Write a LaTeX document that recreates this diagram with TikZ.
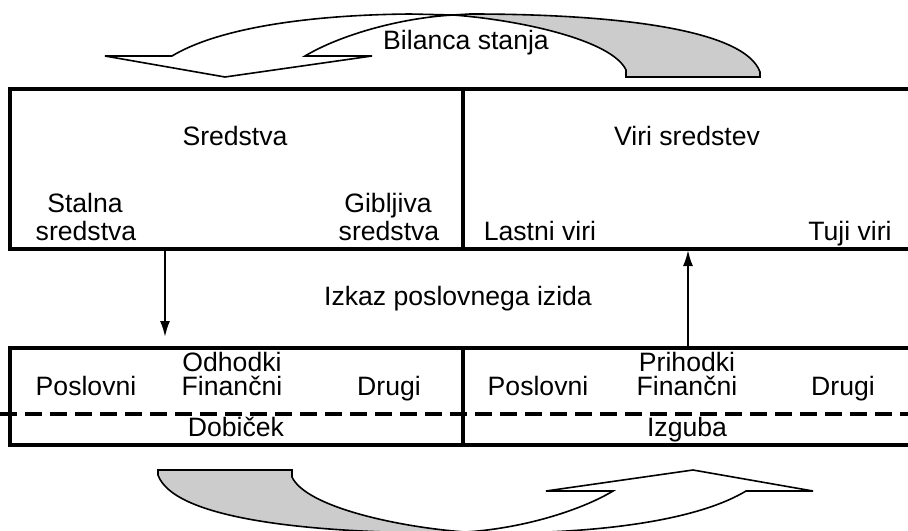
\documentclass[tikz,border=0pt]{standalone}
\usepackage{fontspec}
\setmainfont{Liberation Sans}
\usetikzlibrary{arrows.meta}

\begin{document}
\begin{tikzpicture}[x=0.5pt,y=-0.5pt,font=\fontsize{13.3}{16}\selectfont,
  every node/.style={inner sep=0pt, text height=0.72em, text depth=0.21em}]
\useasboundingbox (0,0) rectangle (908,530);
% ukrivljeni puscici (spodnja je zgornja, zavrtena za 180)
\foreach \rot in {0,180}{
\begin{scope}[rotate around={\rot:(459,273.5)}]
\coordinate (L) at (105,56);
\coordinate (S) at (172,56);
\coordinate (T) at (225,77);
\coordinate (N) at (305,56);
\coordinate (R) at (372,56);
\coordinate (M) at (453,15);
\coordinate (Z) at (626,77);
\coordinate (K) at (760,77);
\draw[line width=0.8pt, fill=white] (L) -- (T) -- (R) -- (N) .. controls (340,35) and (400,18) .. (M) -- (410,14) .. controls (300,15) and (215,30) .. (S) -- cycle;
\draw[line width=0.8pt, fill=black!20] (M) .. controls (520,20) and (612,40) .. (626,70) -- (Z) -- (K) -- (760,72) .. controls (745,30) and (620,14) .. (470,14) -- cycle;
\end{scope}}
\node (bilanca) at (466,44) {Bilanca stanja};
% bilanca stanja
\coordinate (A) at (10,89);
\coordinate (B) at (915,249);
\coordinate (C) at (463,89);
\coordinate (D) at (463,249);
\draw[line width=1.6pt] (A) rectangle (B);
\draw[line width=1.6pt] (C) -- (D);
\node (sredstva) at (235,140) {Sredstva};
\node (stalna) at (85,207) {Stalna};
\node (stalna2) at (86,235) {sredstva};
\node (gibljiva) at (388,207) {Gibljiva};
\node (gibljiva2) at (389,235) {sredstva};
\node (viri) at (687,140) {Viri sredstev};
\node (lastni) at (540,235) {Lastni viri};
\node (tuji) at (850,235) {Tuji viri};
% izkaz poslovnega izida
\coordinate (E) at (10,348);
\coordinate (F) at (915,445);
\coordinate (G) at (463,348);
\coordinate (H) at (463,445);
\draw[line width=1.6pt] (E) rectangle (F);
\draw[line width=1.6pt] (G) -- (H);
\draw[line width=2.2pt, dash pattern=on 8.5pt off 4pt] (0,414) -- (908,414);
\node (izkaz) at (458,300) {Izkaz poslovnega izida};
\node (odhodki) at (232,366) {Odhodki};
\node (poslovni) at (86,390) {Poslovni};
\node (financni) at (232,390) {Finančni};
\node (drugi) at (389,390) {Drugi};
\node (prihodki) at (687,366) {Prihodki};
\node (poslovni2) at (538,390) {Poslovni};
\node (financni2) at (687,390) {Finančni};
\node (drugi2) at (843,390) {Drugi};
\node (dobicek) at (236,431) {Dobiček};
\node (izguba) at (687,431) {Izguba};
% puscici med bilancama
\coordinate (P1) at (165,249);
\coordinate (P2) at (165,337);
\coordinate (P3) at (688,348);
\coordinate (P4) at (688,250);
\draw[line width=1pt, -{Latex[length=8pt,width=5pt]}] (P1) -- (P2);
\draw[line width=1pt, -{Latex[length=8pt,width=5pt]}] (P3) -- (P4);
\end{tikzpicture}
\end{document}
